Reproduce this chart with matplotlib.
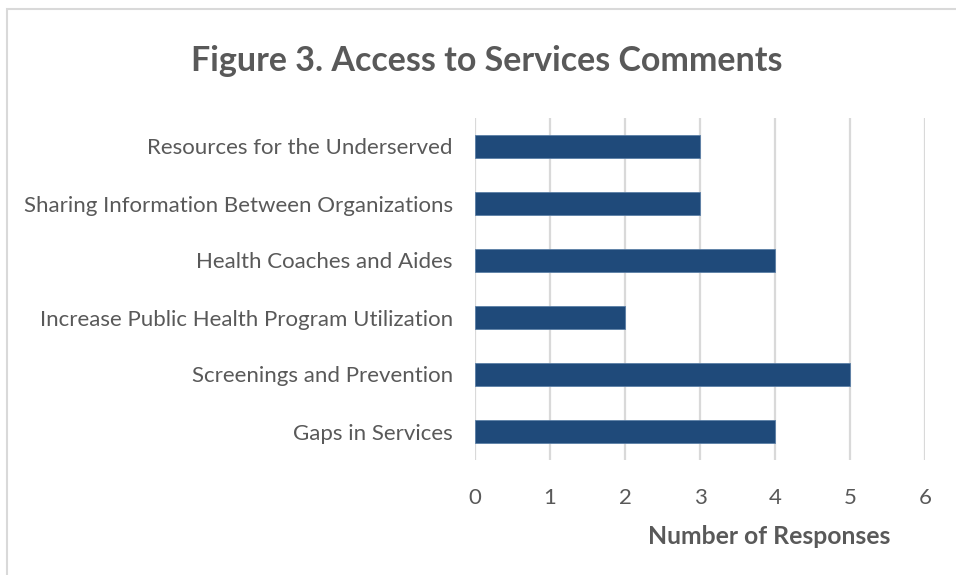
import matplotlib.pyplot as plt
from matplotlib.patches import Rectangle

categories = [
    "Gaps in Services",
    "Screenings and Prevention",
    "Increase Public Health Program Utilization",
    "Health Coaches and Aides",
    "Sharing Information Between Organizations",
    "Resources for the Underserved",
]
responses = [4, 5, 2, 4, 3, 3]
x_ticks = [0, 1, 2, 3, 4, 5, 6]

plt.rcParams["font.family"] = ["Lato", "DejaVu Sans"]
text_color = "#595959"
bar_color = "#1F4A7A"
grid_color = "#D9D9D9"

fig = plt.figure(figsize=(9.56, 5.75), dpi=100)
ax = fig.add_axes([475 / 956, 1 - 460 / 575, 450 / 956, 342 / 575])

ax.barh(range(len(categories)), responses, height=0.39, color=bar_color,
        edgecolor="#5B7FA6", linewidth=0.6, zorder=3)

ax.set_xlim(0, 6)
ax.set_ylim(-0.5, len(categories) - 0.5)
ax.set_xticks(x_ticks)
ax.set_xticklabels([str(t) for t in x_ticks])
ax.set_yticks(range(len(categories)))
ax.set_yticklabels(categories)

ax.grid(axis="x", color=grid_color, linewidth=1.6, zorder=0)
for spine in ax.spines.values():
    spine.set_visible(False)
ax.tick_params(axis="both", length=0, colors=text_color)
ax.tick_params(axis="x", pad=20, labelsize=16)
ax.tick_params(axis="y", pad=16, labelsize=16)

fig.text(487 / 956, 1 - 61 / 575, "Figure 3. Access to Services Comments",
         ha="center", va="center", fontsize=24.5, fontweight="bold", color=text_color)
fig.text(769 / 956, 1 - 537 / 575, "Number of Responses",
         ha="center", va="center", fontsize=17.8, fontweight="bold", color=text_color)

fig.patches.append(Rectangle((7 / 956, -0.1), 1.2, 1 - 9 / 575 + 0.1,
                             transform=fig.transFigure, fill=False,
                             edgecolor=grid_color, linewidth=1.5))

fig.savefig("out.png", dpi=100)
